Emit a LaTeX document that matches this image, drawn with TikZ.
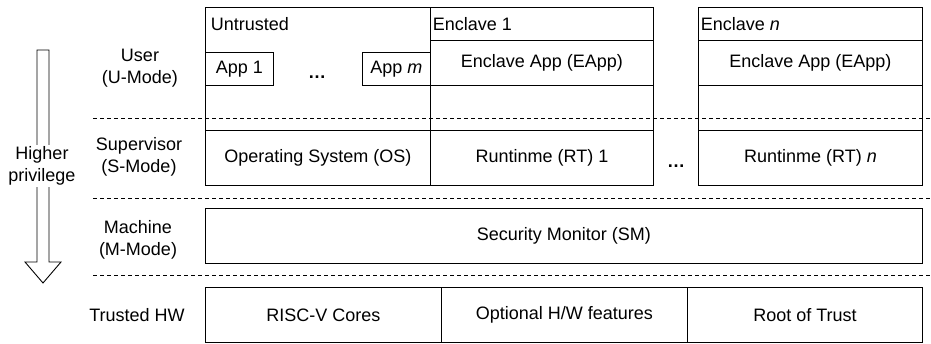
\documentclass[tikz,border=0pt]{standalone}
\usepackage{fontspec}
\setmainfont{Liberation Sans}
\usetikzlibrary{calc}

\begin{document}
\begin{tikzpicture}[x=1pt, y=-1pt, line width=0.9pt,
  every node/.style={font=\fontsize{18}{21.5}\selectfont, align=center},
  blk/.style={draw, inner sep=0pt, anchor=north west}]
\useasboundingbox (0,0) rectangle (931,343);

\coordinate (d1l) at (93,118);
\coordinate (d1r) at (931,118);
\coordinate (d2l) at (93,198);
\coordinate (d2r) at (931,198);
\coordinate (d3l) at (93,275);
\coordinate (d3r) at (931,275);

\foreach \a/\b in {d1l/d1r,d2l/d2r,d3l/d3r}
{  \draw[dash pattern=on 4pt off 3pt, line width=0.7pt] (\a) -- (\b);  }

\foreach \n/\x/\y/\w/\h/\t in {
  untr/205/7/225/123/{},
  os/205/130/225/55/{Operating System (OS)},
  encA/430/7/223/33/{},
  eappA/430/40/223/45/{Enclave App (EApp)},
  emptyA/430/85/223/45/{},
  rtA/430/130/223/55/{Runtinme (RT) 1},
  encN/698/7/224/33/{},
  eappN/698/40/224/45/{Enclave App (EApp)},
  emptyN/698/85/224/45/{},
  rtN/698/130/224/55/{Runtinme (RT) \textit{n}},
  app1/205/52/68/33/{App 1},
  appm/362/52/68/33/{App \textit{m}},
  sm/205/208/717/55/{Security Monitor (SM)},
  cores/205/287/236/55/{RISC-V Cores},
  hwopt/441/287/246/55/{Optional H/W features},
  rot/687/287/235/55/{Root of Trust}}
{ \node[blk, minimum width=\w pt, minimum height=\h pt] (\n) at (\x,\y) {\t}; }

\node[anchor=west] (untrT) at (207,24) {Untrusted};
\node[anchor=west] (encAT) at (429,24) {Enclave 1};
\node[anchor=west] (encNT) at (697,24) {Enclave \textit{n}};
\node (dotsU) at (317,77) {\textbf{\dots}};
\node (dotsS) at (676,166) {\textbf{\dots}};

\node (user) at (140,68) {User\\(U-Mode)};
\node (super) at (139,157) {Supervisor\\(S-Mode)};
\node (mach) at (138,240) {Machine\\(M-Mode)};
\node (trhw) at (137,315) {Trusted HW};

% privilege arrow
\draw (37,50) -- (37,262) -- (25,262) -- (43,283) -- (61,262) -- (49,262) -- (49,50) -- cycle;
\node[fill=white, inner sep=2pt] (priv) at (42,166) {Higher\\privilege};

\end{tikzpicture}
\end{document}
